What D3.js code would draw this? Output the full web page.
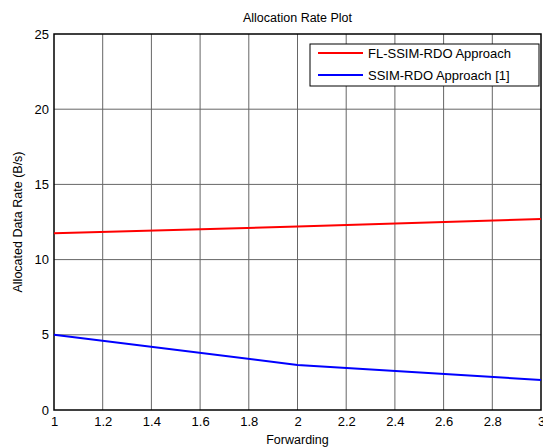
<!DOCTYPE html>
<html>
<head>
<meta charset="utf-8">
<script src="https://cdn.jsdelivr.net/npm/d3@7"></script>
<style>
  body { margin: 0; background: #fff; }
  text { font-family: "Liberation Sans", Arial, sans-serif; fill: #000; }
</style>
</head>
<body>
<div id="chart"></div>
<script>
// dati
const forwarding = [1, 2, 3];
const flSsimRdo = [11.75, 12.2, 12.7];
const ssimRdo = [5, 3, 2];
const xTicks = [1, 1.2, 1.4, 1.6, 1.8, 2, 2.2, 2.4, 2.6, 2.8, 3];
const yTicks = [0, 5, 10, 15, 20, 25];
const seriesNames = ["FL-SSIM-RDO Approach", "SSIM-RDO Approach [1]"];
const seriesColors = ["#ff0000", "#0000ff"];

const width = 543, height = 448;
const margin = {top: 34, right: 2, bottom: 38, left: 54};

const svg = d3.select("#chart")
  .append("svg")
  .attr("width", width)
  .attr("height", height);

const x = d3.scaleLinear().domain([1, 3]).range([margin.left, width - margin.right]);
const y = d3.scaleLinear().domain([0, 25]).range([height - margin.bottom, margin.top]);

// griglia
svg.append("g")
  .selectAll("line")
  .data(xTicks.slice(1, -1))
  .join("line")
  .attr("x1", d => x(d)).attr("x2", d => x(d))
  .attr("y1", y(0)).attr("y2", y(25))
  .attr("stroke", "#666")
  .attr("stroke-width", 1);

svg.append("g")
  .selectAll("line")
  .data(yTicks.slice(1, -1))
  .join("line")
  .attr("x1", x(1)).attr("x2", x(3))
  .attr("y1", d => y(d)).attr("y2", d => y(d))
  .attr("stroke", "#666")
  .attr("stroke-width", 1);

// assi
const xAxis = svg.append("g")
  .attr("transform", `translate(0,${y(0)})`)
  .call(d3.axisBottom(x).tickValues(xTicks).tickSize(0).tickPadding(7).tickFormat(d3.format("~g")));
const yAxis = svg.append("g")
  .attr("transform", `translate(${x(1)},0)`)
  .call(d3.axisLeft(y).tickValues(yTicks).tickSize(0).tickPadding(5));
[xAxis, yAxis].forEach(a => {
  a.select(".domain").remove();
  a.selectAll("text").attr("font-size", 13).attr("font-family", "Liberation Sans, Arial, sans-serif").attr("fill", "#000");
});

// riquadro
svg.append("rect")
  .attr("x", x(1)).attr("y", y(25))
  .attr("width", x(3) - x(1)).attr("height", y(0) - y(25))
  .attr("fill", "none")
  .attr("stroke", "#000")
  .attr("stroke-width", 1.5);

// linee
const line = d3.line().x((d, i) => x(forwarding[i])).y(d => y(d));
[flSsimRdo, ssimRdo].forEach((s, i) => {
  svg.append("path")
    .datum(s)
    .attr("d", line)
    .attr("fill", "none")
    .attr("stroke", seriesColors[i])
    .attr("stroke-width", 2);
});

// titoli
svg.append("text")
  .attr("x", (x(1) + x(3)) / 2).attr("y", 22)
  .attr("text-anchor", "middle")
  .attr("font-size", 12.5)
  .text("Allocation Rate Plot");

svg.append("text")
  .attr("x", (x(1) + x(3)) / 2).attr("y", 444)
  .attr("text-anchor", "middle")
  .attr("font-size", 12.5)
  .text("Forwarding");

svg.append("text")
  .attr("transform", `translate(22,${(y(0) + y(25)) / 2}) rotate(-90)`)
  .attr("text-anchor", "middle")
  .attr("font-size", 12.5)
  .text("Allocated Data Rate (B/s)");

// legenda
const legend = svg.append("g").attr("transform", "translate(310,44)");
legend.append("rect")
  .attr("width", 229).attr("height", 42)
  .attr("fill", "#fff")
  .attr("stroke", "#000")
  .attr("stroke-width", 1);
seriesNames.forEach((name, i) => {
  const ly = 9 + i * 22;
  legend.append("line")
    .attr("x1", 8).attr("x2", 53)
    .attr("y1", ly).attr("y2", ly)
    .attr("stroke", seriesColors[i])
    .attr("stroke-width", 2);
  legend.append("text")
    .attr("x", 58).attr("y", ly + 4.5)
    .attr("font-size", 13)
    .text(name);
});
</script>
</body>
</html>
